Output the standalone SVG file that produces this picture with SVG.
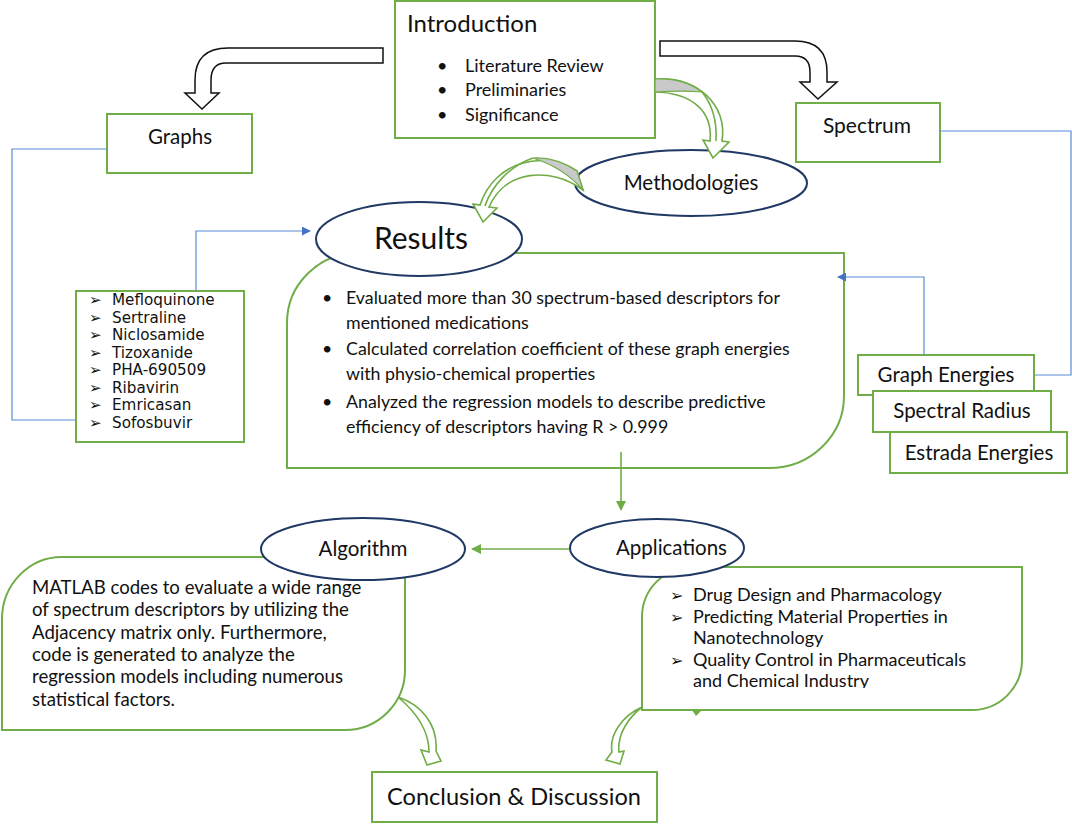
<svg xmlns="http://www.w3.org/2000/svg" width="1072" height="825" viewBox="0 0 1072 825">
<style>
.box{fill:#fff;stroke:#70AD47;stroke-width:2}
.ell{fill:#fff;stroke:#1F3864;stroke-width:2}
.t{font-family:Lato,"Liberation Sans",sans-serif;fill:#111}
.d{font-family:"DejaVu Sans",sans-serif;fill:#111}
.bl{font-family:"DejaVu Sans",sans-serif;font-size:16px}
.bs{font-family:"DejaVu Sans",sans-serif;font-size:15px}
.blue{fill:none;stroke:#5B8BD6;stroke-width:1.2}
.gline{fill:none;stroke:#70AD47;stroke-width:1.6}
.blk{fill:#fff;stroke:#111;stroke-width:1.5}
.carr{fill:#fff;stroke:#70AD47;stroke-width:1.6;stroke-linejoin:miter}
.gray{fill:#C9C9C9;stroke:#70AD47;stroke-width:1.2}
</style>
<defs>
<marker id="ab" viewBox="0 0 10 10" refX="9" refY="5" markerWidth="9" markerHeight="9" markerUnits="userSpaceOnUse" orient="auto"><path d="M0,0 L10,5 L0,10 Z" fill="#4472C4"/></marker>
<marker id="ag" viewBox="0 0 10 10" refX="9" refY="5" markerWidth="10" markerHeight="10" markerUnits="userSpaceOnUse" orient="auto"><path d="M0,0 L10,5 L0,10 Z" fill="#70AD47"/></marker>
<clipPath id="appclip"><rect x="640" y="565" width="390" height="123"/></clipPath>
</defs>

<g id="intro">
<rect class="box" x="395" y="1" width="260" height="137"/>
<text class="t" x="407" y="32" font-size="24">Introduction</text>
<text class="t" font-size="18"><tspan x="437" y="72">•</tspan><tspan x="465" y="72">Literature Review</tspan><tspan x="437" y="96">•</tspan><tspan x="465" y="96">Preliminaries</tspan><tspan x="437" y="121">•</tspan><tspan x="465" y="121">Significance</tspan></text>
</g>

<g id="graphs">
<rect class="box" x="107" y="114" width="145" height="59"/>
<text class="t" x="180" y="144" font-size="20.5" text-anchor="middle">Graphs</text>
</g>

<g id="spectrum">
<rect class="box" x="796" y="103" width="144" height="59"/>
<text class="t" x="867" y="133" font-size="21" text-anchor="middle">Spectrum</text>
</g>

<g id="drugs">
<rect class="box" x="76" y="291" width="168" height="151"/>
<text class="d" font-size="15.2"><tspan class="bs" x="89" y="305">➢</tspan><tspan x="112" y="305">Mefloquinone</tspan><tspan class="bs" x="89" y="322.5">➢</tspan><tspan x="112" y="322.5">Sertraline</tspan><tspan class="bs" x="89" y="340">➢</tspan><tspan x="112" y="340">Niclosamide</tspan><tspan class="bs" x="89" y="357.5">➢</tspan><tspan x="112" y="357.5">Tizoxanide</tspan><tspan class="bs" x="89" y="375">➢</tspan><tspan x="112" y="375">PHA-690509</tspan><tspan class="bs" x="89" y="392.5">➢</tspan><tspan x="112" y="392.5">Ribavirin</tspan><tspan class="bs" x="89" y="410">➢</tspan><tspan x="112" y="410">Emricasan</tspan><tspan class="bs" x="89" y="427.5">➢</tspan><tspan x="112" y="427.5">Sofosbuvir</tspan></text>
</g>

<g id="results-box">
<path class="box" d="M358,253 H844 V396 A75,72 0 0 1 769,468 H287 V323 A71,70 0 0 1 358,253 Z"/>
<text class="t" font-size="17.8"><tspan x="322" y="304">•</tspan><tspan x="346" y="304">Evaluated more than 30 spectrum-based descriptors for</tspan><tspan x="346" y="329">mentioned medications</tspan><tspan x="322" y="355">•</tspan><tspan x="346" y="355">Calculated correlation coefficient of these graph energies</tspan><tspan x="346" y="380">with physio-chemical properties</tspan><tspan x="322" y="408">•</tspan><tspan x="346" y="408">Analyzed the regression models to describe predictive</tspan><tspan x="346" y="433">efficiency of descriptors having R &gt; 0.999</tspan></text>
</g>

<g id="results">
<ellipse class="ell" cx="419" cy="239" rx="103" ry="37"/>
<text class="t" x="421" y="249" font-size="30" text-anchor="middle">Results</text>
</g>

<g id="methodologies">
<ellipse class="ell" cx="691" cy="183" rx="116" ry="33"/>
<text class="t" x="691" y="190" font-size="20.5" text-anchor="middle">Methodologies</text>
</g>

<g id="energies">
<rect class="box" x="858" y="355" width="176" height="40"/>
<text class="t" x="946" y="382" font-size="20.5" text-anchor="middle">Graph Energies</text>
<rect class="box" x="873" y="391" width="178" height="41"/>
<text class="t" x="962" y="418" font-size="20.5" text-anchor="middle">Spectral Radius</text>
<rect class="box" x="890" y="432" width="177" height="41"/>
<text class="t" x="979" y="460" font-size="20.5" text-anchor="middle">Estrada Energies</text>
</g>

<g id="algorithm-box">
<path class="box" d="M62,557 H405 V670 A60,60 0 0 1 345,730 H2 V619 A60,62 0 0 1 62,557 Z"/>
<text class="t" font-size="18.6"><tspan x="32" y="594">MATLAB codes to evaluate a wide range</tspan><tspan x="32" y="616.3">of spectrum descriptors by utilizing the</tspan><tspan x="32" y="638.6">Adjacency matrix only. Furthermore,</tspan><tspan x="32" y="660.9">code is generated to analyze the</tspan><tspan x="32" y="683.2">regression models including numerous</tspan><tspan x="32" y="705.5">statistical factors.</tspan></text>
</g>

<g id="applications-box">
<path class="box" d="M692,567 H1022 V660 A50,50 0 0 1 972,710 H642 V617 A50,50 0 0 1 692,567 Z"/>
<path d="M692,710 L702,710 L696,716 Z" fill="#70AD47"/>
<text class="t" font-size="18" clip-path="url(#appclip)"><tspan class="bl" x="670" y="601">➢</tspan><tspan x="693" y="601">Drug Design and Pharmacology</tspan><tspan class="bl" x="670" y="622.6">➢</tspan><tspan x="693" y="622.6">Predicting Material Properties in</tspan><tspan x="693" y="644.2">Nanotechnology</tspan><tspan class="bl" x="670" y="665.8">➢</tspan><tspan x="693" y="665.8">Quality Control in Pharmaceuticals</tspan><tspan x="693" y="687.4">and Chemical Industry</tspan></text>
</g>

<g id="applications">
<ellipse class="ell" cx="657" cy="548" rx="87" ry="29"/>
<text class="t" x="616" y="555" font-size="20.5">Applications</text>
</g>

<g id="algorithm">
<ellipse class="ell" cx="363" cy="549" rx="102" ry="31"/>
<text class="t" x="363" y="556" font-size="20.5" text-anchor="middle">Algorithm</text>
</g>

<g id="conclusion">
<rect class="box" x="372" y="772" width="285" height="50"/>
<text class="t" x="514" y="805" font-size="23.6" text-anchor="middle">Conclusion &amp; Discussion</text>
</g>

<g id="connectors">
<path class="blk" d="M383,48 L228,48 Q195,48 195,80 L195,93 L185,93 L202,109 L219,93 L211,93 L211,80 Q211,63 226,63 L383,63 Z"/>
<path class="blk" d="M660,41 L795,41 Q827,41 827,72 L827,82 L837,82 L818,99 L800,82 L810,82 L810,72 Q810,56 795,56 L660,56 Z"/>
<path class="blue" d="M107,149 H12 V420 H76"/>
<path class="blue" d="M196,291 V231 H310" marker-end="url(#ab)"/>
<path class="blue" d="M940,131 H1071 V375 H1035"/>
<path class="blue" d="M924,355 V277 H838" marker-end="url(#ab)"/>
<path class="gline" d="M621,452 V510" marker-end="url(#ag)"/>
<path class="gline" d="M569,549 H472" marker-end="url(#ag)"/>
<path class="carr" d="M655,79 C697,76 728,105 722,141 L729,142 L713,158 L703,140 L710,141 C713,111 692,93 655,92 Z"/>
<path class="gray" d="M655,79 C674,78 690,83 702,92 C690,91 673,91 655,92 Z"/>
<path class="gline" d="M702,92 C712,104 717,122 716,141" stroke-width="1.2"/>
<path class="carr" d="M577,171 C545,150 495,160 480,205 L473,204 L483,222 L497,208 L489,207 C505,170 550,166 583,190 Z"/>
<path class="gray" d="M577,171 C562,161 548,157 533,158 C552,164 570,175 583,190 Z"/>
<path class="gline" d="M533,158 C510,166 492,185 485,206" stroke-width="1.2"/>
<path class="carr" d="M398,697 C422,705 438,725 436,751 L441,761 L427,765 L421,750 L429,752 C429,730 416,712 398,697 Z"/>
<path class="carr" d="M642,707 C622,716 609,735 612,752 L606,760 L620,764 L624,751 L619,752 C617,735 628,718 642,707 Z"/>
</g>
</svg>
